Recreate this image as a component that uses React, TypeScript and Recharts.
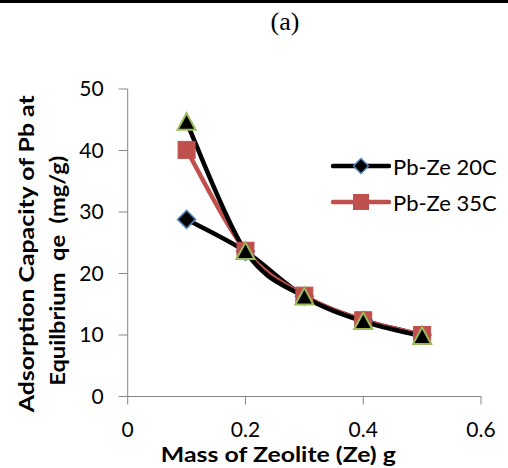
import React from "react";
import { LineChart, Line, XAxis, YAxis, Legend } from "recharts";

const xValues = [0.1, 0.2, 0.3, 0.4, 0.5];
const pbZe20C = [28.8, 23.6, 16.3, 12.4, 10.0];
const pbZe35C = [40.1, 23.7, 16.4, 12.4, 10.0];
const pbZe3 = [44.6, 23.6, 16.2, 12.2, 9.8];
const xTicks = [0, 0.2, 0.4, 0.6];
const yTicks = [0, 10, 20, 30, 40, 50];
const seriesNames = ["Pb-Ze 20C", "Pb-Ze 35C", "Pb-Ze"];

const data = xValues.map((x, i) => ({ x, s20: pbZe20C[i], s35: pbZe35C[i], s3: pbZe3[i] }));

const FONT = "Lato, 'Open Sans', sans-serif";
const RED = "#c0504d";
const BLUE = "#4a7ebb";
const GREEN = "#9bbb59";

// Excel-like smoothing (uniform Catmull-Rom / cardinal with tension 0)
function excelSmooth(context: any) {
  let pts: [number, number][] = [];
  return {
    areaStart() {},
    areaEnd() {},
    lineStart() {
      pts = [];
    },
    lineEnd() {
      if (pts.length === 0) return;
      context.moveTo(pts[0][0], pts[0][1]);
      for (let i = 0; i < pts.length - 1; i++) {
        const p0 = pts[i - 1] || pts[i];
        const p1 = pts[i];
        const p2 = pts[i + 1];
        const p3 = pts[i + 2] || p2;
        const c1x = p1[0] + (p2[0] - p0[0]) / 6;
        const c1y = p1[1] + (p2[1] - p0[1]) / 6;
        const c2x = p2[0] - (p3[0] - p1[0]) / 6;
        const c2y = p2[1] - (p3[1] - p1[1]) / 6;
        context.bezierCurveTo(c1x, c1y, c2x, c2y, p2[0], p2[1]);
      }
    },
    point(x: number, y: number) {
      pts.push([+x, +y]);
    },
  };
}

const Diamond = ({ cx, cy, r = 9 }: any) => (
  <polygon
    points={`${cx},${cy - r} ${cx + r},${cy} ${cx},${cy + r} ${cx - r},${cy}`}
    fill="#000"
    stroke={BLUE}
    strokeWidth={1.5}
  />
);
const Square = ({ cx, cy, r = 8.5 }: any) => (
  <rect x={cx - r} y={cy - r} width={2 * r} height={2 * r} fill={RED} stroke={RED} strokeWidth={1} />
);
const Triangle = ({ cx, cy, r = 9 }: any) => (
  <polygon
    points={`${cx},${cy - r} ${cx + r},${cy + r * 0.85} ${cx - r},${cy + r * 0.85}`}
    fill="#000"
    stroke={GREEN}
    strokeWidth={2}
  />
);

const dotFor = (Shape: any) => (props: any) =>
  props.cx == null ? <g key={props.key} /> : <Shape key={props.key} cx={props.cx} cy={props.cy} />;

const legendMarkers: Record<string, any> = { s20: Diamond, s35: Square };

const LegendContent = (props: any) => {
  const items = (props.payload || []).filter((p: any) => p.type !== "none");
  return (
    <div>
      {items.map((p: any) => {
        const M = legendMarkers[p.dataKey];
        return (
          <div key={p.dataKey} style={{ display: "flex", alignItems: "center", height: 36 }}>
            <svg width={60} height={24} style={{ display: "block" }}>
              <line x1={2} y1={12} x2={58} y2={12} stroke={p.color} strokeWidth={4.5} strokeLinecap="round" />
              {M ? <M cx={30} cy={12} r={7.5} /> : null}
            </svg>
            <span style={{ fontFamily: FONT, fontSize: 22, color: "#000", marginLeft: 2, whiteSpace: "nowrap" }}>
              {p.value}
            </span>
          </div>
        );
      })}
    </div>
  );
};

const XTitle = (props: any) => {
  const vb = props.viewBox;
  return (
    <text
      x={vb.x + vb.width / 2 - 26}
      y={vb.y + 65}
      textAnchor="middle"
      fontFamily={FONT}
      fontWeight="bold"
      fontSize={21}
      fill="#000"
      textLength={235}
      lengthAdjust="spacingAndGlyphs"
    >
      Mass of Zeolite (Ze) g
    </text>
  );
};

const YTitle = (props: any) => {
  const vb = props.viewBox;
  const cy = vb.y + vb.height / 2;
  return (
    <g>
      <text
        transform={`translate(34, ${cy + 11}) rotate(-90)`}
        textAnchor="middle"
        fontFamily={FONT}
        fontWeight="bold"
        fontSize={21}
        fill="#000"
        textLength={317}
        lengthAdjust="spacingAndGlyphs"
      >
        Adsorption Capacity of Pb at
      </text>
      <text
        transform={`translate(65, ${cy + 28}) rotate(-90)`}
        textAnchor="middle"
        fontFamily={FONT}
        fontWeight="bold"
        fontSize={21}
        fill="#000"
        textLength={230}
        lengthAdjust="spacingAndGlyphs"
        style={{ whiteSpace: "pre" }}
      >
        {"Equilbrium  qe  (mg/g)"}
      </text>
    </g>
  );
};

export default function App() {
  return (
    <div style={{ position: "absolute", left: 0, top: 0, width: 508, height: 468, background: "#fff" }}>
      <div style={{ position: "absolute", left: 0, top: 0, width: 508, height: 3, background: "#000" }} />
      <div
        style={{
          position: "absolute",
          left: 235,
          width: 100,
          top: 7,
          textAlign: "center",
          fontFamily: "'Liberation Serif', serif",
          fontSize: 26,
          lineHeight: "30px",
          color: "#000",
        }}
      >
        (a)
      </div>
      <LineChart
        width={508}
        height={468}
        data={data}
        margin={{ top: 89, right: 27, bottom: 31.5, left: 67.7 }}
        style={{ position: "absolute", left: 0, top: 0 }}
      >
        <XAxis
          dataKey="x"
          type="number"
          domain={[0, 0.6]}
          ticks={xTicks}
          tickFormatter={(v: number) => String(Math.round(v * 10) / 10)}
          height={40}
          stroke="#868686"
          tickSize={8}
          tickMargin={18}
          tick={{ fill: "#000", fontFamily: FONT, fontSize: 21 }}
          allowDecimals
          label={<XTitle />}
        />
        <YAxis
          type="number"
          domain={[0, 50]}
          ticks={yTicks}
          width={60}
          stroke="#868686"
          tickSize={9}
          tickMargin={15}
          tick={{ fill: "#000", fontFamily: FONT, fontSize: 21 }}
          label={<YTitle />}
        />
        <Legend
          layout="horizontal"
          align="center"
          verticalAlign="middle"
          content={<LegendContent />}
          wrapperStyle={{ position: "absolute", left: 331, top: 148, width: 180 }}
        />
        <Line
          dataKey="s20"
          name={seriesNames[0]}
          type={excelSmooth as any}
          stroke="#000"
          strokeWidth={4.5}
          dot={dotFor(Diamond)}
          isAnimationActive={false}
        />
        <Line
          dataKey="s35"
          name={seriesNames[1]}
          type={excelSmooth as any}
          stroke={RED}
          strokeWidth={4.5}
          dot={dotFor(Square)}
          isAnimationActive={false}
        />
        <Line
          dataKey="s3"
          name={seriesNames[2]}
          type={excelSmooth as any}
          stroke="#000"
          strokeWidth={4.5}
          dot={dotFor(Triangle)}
          legendType="none"
          isAnimationActive={false}
        />
      </LineChart>
    </div>
  );
}
